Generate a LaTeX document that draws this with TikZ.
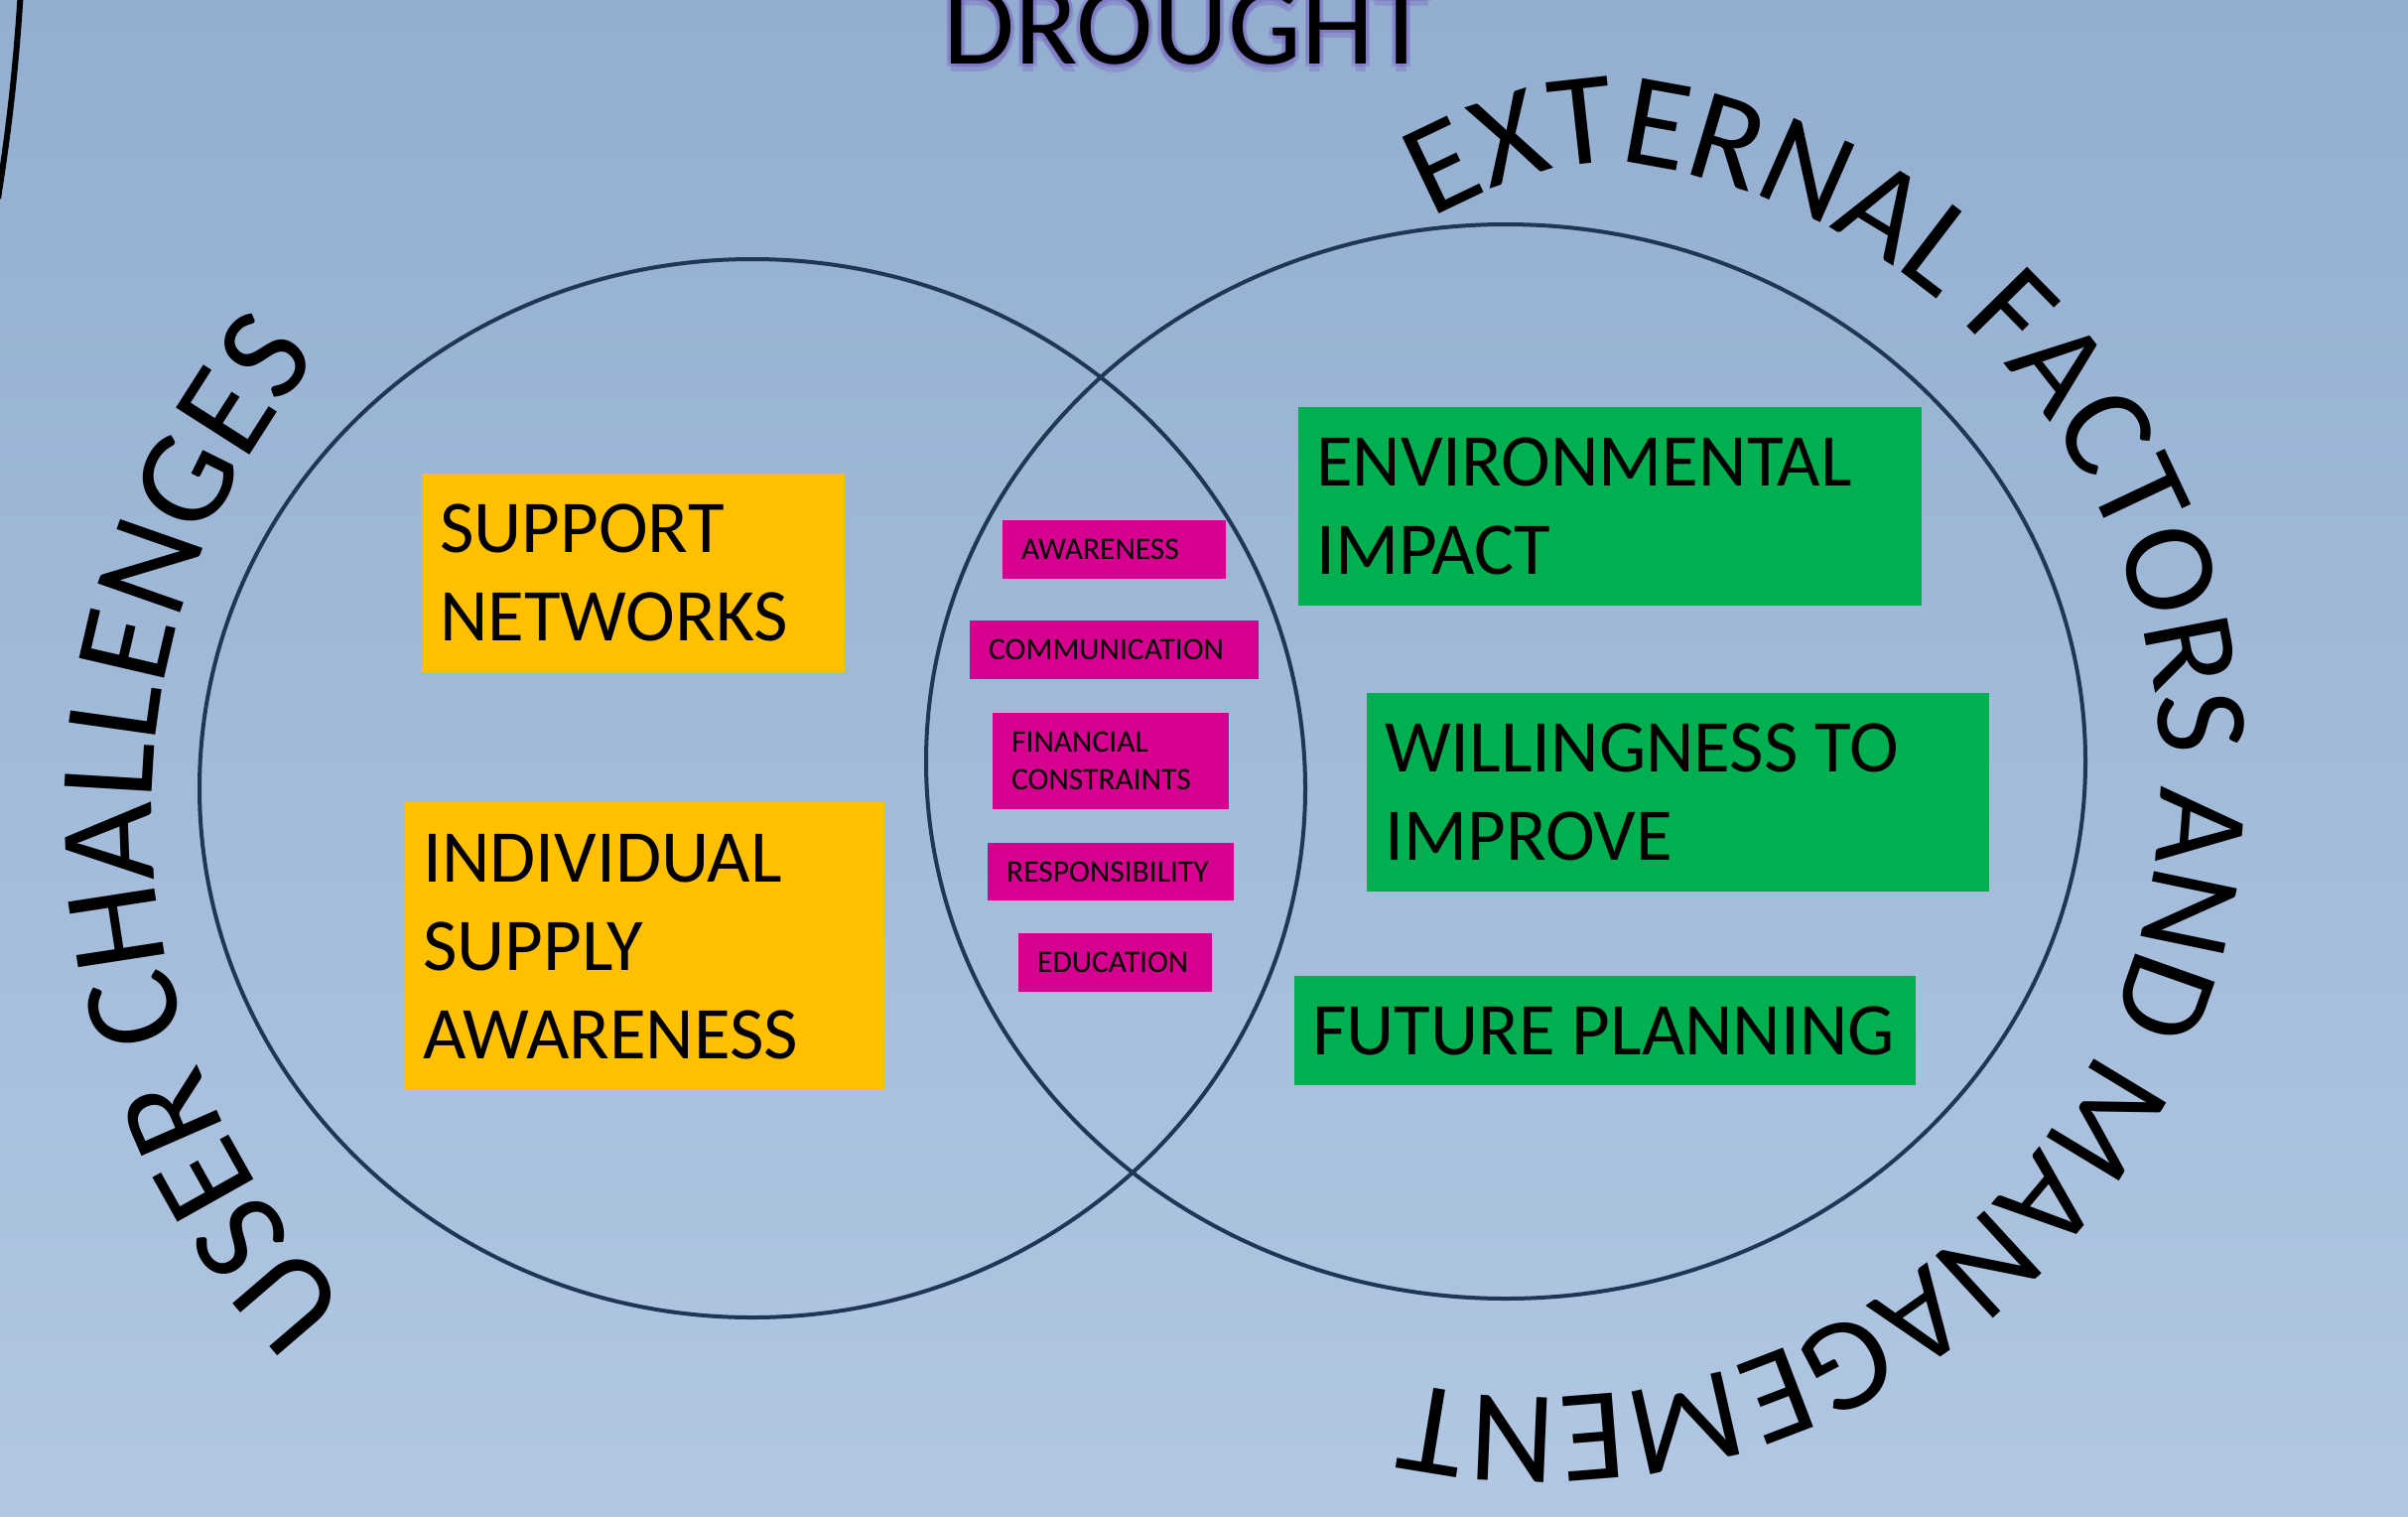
\documentclass[tikz,border=0pt]{standalone}
\usepackage{fontspec}
\setmainfont{Carlito}
\usetikzlibrary{decorations.text,shapes.geometric}
\definecolor{bgtop}{RGB}{147,174,208}
\definecolor{bgbot}{RGB}{177,199,227}
\definecolor{ringc}{RGB}{31,54,85}
\definecolor{yel}{RGB}{255,192,0}
\definecolor{grn}{RGB}{0,176,80}
\definecolor{mag}{RGB}{213,0,143}
\definecolor{glowc}{RGB}{118,98,190}
\newcommand{\arcfntR}{\fontsize{133}{133}\selectfont}
\newcommand{\arcfntL}{\fontsize{137}{137}\selectfont}
\tikzset{
  ring/.style={ellipse, draw=ringc, line width=4pt, inner sep=0pt},
  bigbox/.style={anchor=north west, inner xsep=18pt, inner ysep=0pt, align=left,
    font=\fontsize{75}{89}\selectfont, execute at begin node={\spaceskip=0pt\hyphenpenalty=10000\relax}},
  ybox/.style={bigbox, fill=yel},
  gbox/.style={bigbox, fill=grn},
  mbox/.style={anchor=north west, fill=mag, inner xsep=19pt, inner ysep=0pt, align=left,
    font=\fontsize{31.5}{38}\selectfont, execute at begin node={\spaceskip=0pt\hyphenpenalty=10000\relax}},
  arctext/.style={decorate, decoration={text along path, text align=left, text={#1}}}
}
\begin{document}
\begin{tikzpicture}[x=1pt, y=1pt]
\useasboundingbox (0,0) rectangle (2426,-1527);
\clip (0,0) rectangle (2426,-1527);
\shade[top color=bgtop, bottom color=bgbot] (0,0) rectangle (2426,-1527);

% outer arc at top-left
\coordinate (oa1) at (21,10);
\coordinate (oa2) at (-2,-200);
\draw[line width=6pt] (oa1) .. controls (16,-70) and (9,-130) .. (oa2);

% circles
\node[ring, minimum width=1114pt, minimum height=1066pt] (lc) at (758,-794) {};
\node[ring, minimum width=1168pt, minimum height=1082pt] (rc) at (1517,-767) {};

% title with glow
\foreach \dx/\dy [count=\i] in {-4/-3, 4/-3, 0/-8, -3/1, 3/1} {
  \node[anchor=base west, inner sep=0pt, text=glowc, opacity=0.35,
        font=\fontsize{117}{117}\selectfont] (dg\i) at (950+\dx,-64+\dy) {DROUGHT};
}
\node[anchor=base west, inner sep=0pt, font=\fontsize{117}{117}\selectfont] (dr) at (950,-64) {DROUGHT};

% arc texts
\coordinate (rs) at (1442,-220);
\coordinate (rj) at (1660,-167);
\path[arctext={|\arcfntR|EXTERNAL FACTORS AND MANAGEMENT}]
  (rs) .. controls (1508,-185) and (1586,-154) .. (rj)
  arc[start angle=80, end angle=-125, radius=625];
\coordinate (ls) at (863,-820);
\path[arctext={|\arcfntL|USER CHALLENGES}]
  (ls) ++(224.2:710) arc[start angle=224.2, end angle=120, radius=710];

% yellow boxes
\node[ybox, text width=390pt, minimum height=200pt] (sup) at (425,-477) {SUPPORT\\NETWORKS};
\node[ybox, text width=447pt, minimum height=290pt] (ind) at (408,-808) {INDIVIDUAL\\SUPPLY\\AWARENESS};

% green boxes
\node[gbox, text width=592pt, minimum height=200pt] (env) at (1308,-410) {ENVIRONMENTAL\\IMPACT};
\node[gbox, text width=591pt, minimum height=200pt] (wil) at (1377,-698) {WILLINGNESS TO\\IMPROVE};
\node[gbox, text width=590pt, minimum height=110pt] (fut) at (1304,-983) {\mbox{FUTURE PLANNING}};

% magenta boxes
\node[mbox, text width=187pt, minimum height=59pt] (aw) at (1010,-524) {AWARENESS};
\node[mbox, text width=253pt, minimum height=59pt] (com) at (977,-625) {COMMUNICATION};
\node[mbox, text width=200pt, minimum height=97pt] (fin) at (1000,-718) {FINANCIAL\\CONSTRAINTS};
\node[mbox, text width=210pt, minimum height=58pt] (res) at (995,-849) {RESPONSIBILITY};
\node[mbox, text width=157pt, minimum height=59pt] (edu) at (1026,-940) {EDUCATION};
\end{tikzpicture}
\end{document}
